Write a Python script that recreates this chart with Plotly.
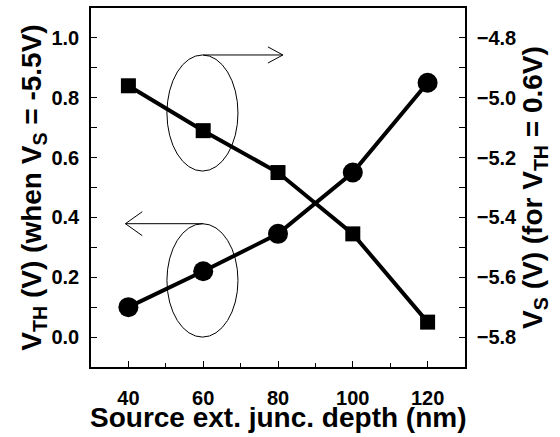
import plotly.graph_objects as go

# Source extension junction depth (nm)
depth_nm = [40, 60, 80, 100, 120]
# Threshold voltage when V_S = -5.5 V (left axis)
vth_v = [0.10, 0.22, 0.345, 0.55, 0.85]
# Source voltage for V_TH = 0.6 V (right axis)
vs_v = [-4.96, -5.11, -5.25, -5.455, -5.75]

x_ticks = [40, 60, 80, 100, 120]
left_ticks = [0.0, 0.2, 0.4, 0.6, 0.8, 1.0]
right_ticks = [-5.8, -5.6, -5.4, -5.2, -5.0, -4.8]

FONT = "Liberation Sans"
tick_font = dict(family=FONT, size=20, color="black", weight="bold")
title_font = dict(family=FONT, size=28, color="black", weight="bold")

fig = go.Figure()

fig.add_trace(go.Scatter(
    x=depth_nm, y=vth_v, mode="lines+markers",
    line=dict(color="black", width=4),
    marker=dict(symbol="circle", size=20, color="black"),
    yaxis="y", showlegend=False,
))
fig.add_trace(go.Scatter(
    x=depth_nm, y=vs_v, mode="lines+markers",
    line=dict(color="black", width=4),
    marker=dict(symbol="square", size=15, color="black"),
    yaxis="y2", showlegend=False,
))

axis_common = dict(
    showgrid=False, zeroline=False, showline=True, linecolor="black",
    linewidth=1.5, ticks="inside", ticklen=6, tickwidth=1.2, tickcolor="black",
    tickfont=tick_font,
)

fig.update_layout(
    width=560, height=437,
    margin=dict(l=91, r=95, t=6, b=70),
    paper_bgcolor="white", plot_bgcolor="white",
    xaxis=dict(
        range=[30, 130], tickvals=x_ticks, mirror=True,
        minor=dict(ticks="inside", dtick=10, tick0=30, ticklen=4, tickcolor="black"),
        ticklabelstandoff=12,
        **axis_common,
    ),
    yaxis=dict(
        range=[-0.1, 1.1], tickvals=left_ticks, tickformat=".1f",
        minor=dict(ticks="inside", dtick=0.1, tick0=0, ticklen=6, tickcolor="black"),
        ticklabelstandoff=6,
        title=dict(text="V<sub>TH</sub> (V) (when V<sub>S</sub> = -5.5V)",
                   font=title_font, standoff=2),
        **axis_common,
    ),
    yaxis2=dict(
        range=[-5.9, -4.7], tickvals=right_ticks, tickformat=".1f",
        overlaying="y", side="right",
        minor=dict(ticks="inside", dtick=0.1, tick0=-5.9, ticklen=6, tickcolor="black"),
        ticklabelstandoff=6,
        title=dict(text="V<sub>S</sub> (V) (for V<sub>TH</sub> = 0.6V)",
                   font=title_font, standoff=2),
        **axis_common,
    ),
)

# x-axis title sits tight under the tick labels
fig.add_annotation(text="Source ext. junc. depth (nm)", font=title_font,
                   xref="paper", yref="paper", x=0.5, y=-0.14,
                   xanchor="center", yanchor="middle", showarrow=False)

# Ellipses marking which curve belongs to which axis, with pointing arrows
thin = dict(color="black", width=1)
fig.add_shape(type="circle", xref="x", yref="y",
              x0=50.3, x1=69.3, y0=0.555, y1=0.943, line=thin)
fig.add_shape(type="circle", xref="x", yref="y",
              x0=50.3, x1=69.3, y0=0.0, y1=0.379, line=thin)

# upper arrow -> right axis
fig.add_shape(type="path", xref="x", yref="y", line=thin,
              path="M 60,0.943 L 81.3,0.943 M 77.3,0.970 L 81.3,0.943 L 77.3,0.916")
# lower arrow -> left axis
fig.add_shape(type="path", xref="x", yref="y", line=thin,
              path="M 60,0.379 L 39.2,0.379 M 43.7,0.419 L 39.2,0.379 L 43.7,0.339")

fig.write_html("out.html")
